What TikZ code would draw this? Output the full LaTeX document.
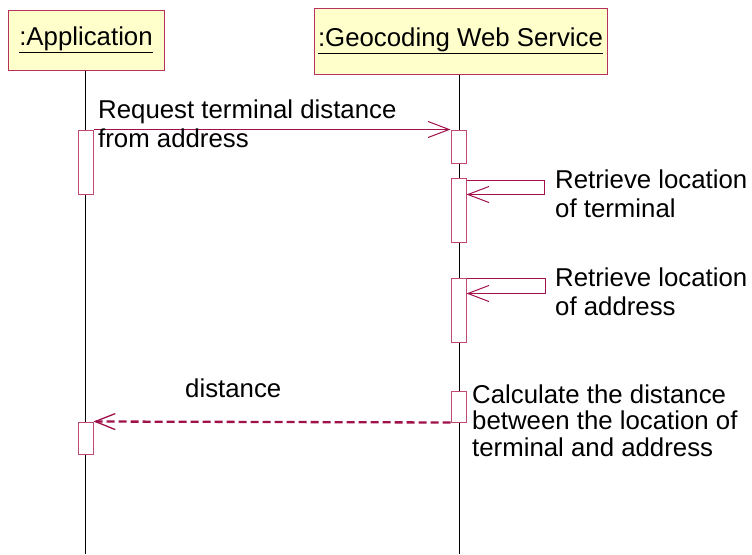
\documentclass[tikz,border=0pt]{standalone}
\usepackage{fontspec}
\setmainfont{Liberation Sans}
\usetikzlibrary{arrows.meta}
\definecolor{umlfill}{HTML}{FFFFCC}
\definecolor{umlborder}{HTML}{B8305E}
\definecolor{actborder}{HTML}{C04A70}
\definecolor{msgcol}{HTML}{A0104A}
\begin{document}
\begin{tikzpicture}[x=1pt,y=-1pt,
  objbox/.style={draw=umlborder, fill=umlfill, line width=1pt, inner sep=0pt,
    font=\fontsize{25.8}{29}\selectfont},
  actbox/.style={draw=actborder, fill=white, line width=1pt, inner sep=0pt,
    minimum width=15pt},
  lifeline/.style={draw=black, line width=1pt},
  msg/.style={draw=msgcol, line width=1pt,
    -{Straight Barb[length=21pt,width=16pt,line width=1pt]}},
  retmsg/.style={draw=msgcol, line width=2.3pt, dash pattern=on 8pt off 4pt,
    -{Straight Barb[length=20pt,width=16pt,line width=1.3pt]}},
  lbl/.style={inner sep=0pt, anchor=base west, align=left,
    font=\fontsize{25.8}{29}\selectfont}
]
\useasboundingbox (0,0) rectangle (752,554);
% objects
\node[objbox, minimum width=156pt, minimum height=60pt] (app) at (86,40) {\underline{:Application}};
\node[objbox, minimum width=293pt, minimum height=66pt] (geo) at (460.5,41) {\underline{:Geocoding Web Service}};
% lifeline ends
\coordinate (append) at (85.5,554);
\coordinate (geoend) at (459,554);
\draw[lifeline] (app.south -| append) -- (append);
\draw[lifeline] (geo.south -| geoend) -- (geoend);
% activations
\node[actbox, minimum height=64pt] (a1) at (85.5,162) {};
\node[actbox, minimum height=33pt] (g1) at (458.5,146.5) {};
\node[actbox, minimum height=64pt] (g2) at (458.5,210) {};
\node[actbox, minimum height=64pt] (g3) at (458.5,310) {};
\node[actbox, minimum height=31pt] (g4) at (458.5,406.5) {};
\node[actbox, minimum height=32pt] (a2) at (85.5,438) {};
% messages
\draw[msg] (a1.north east) -- (g1.north west);
\draw[msg] ([yshift=-3pt]g2.north east) -- ++(78,0) -- ++(0,14) -- ([yshift=-17pt]g2.north east);
\draw[msg] ([yshift=-1pt]g3.north east) -- ++(79,0) -- ++(0,15) -- ([yshift=-16pt]g3.north east);
\draw[retmsg] (g4.south west) -- (a2.north east);
% labels (base = last line)
\node[lbl] (l1) at (98,147) {Request terminal distance\\from address};
\node[lbl] (l2) at (555,217) {Retrieve location\\of terminal};
\node[lbl] (l3) at (555,315) {Retrieve location\\of address};
\node[lbl] (l4) at (185,397) {distance};
\node[lbl, font=\fontsize{25.8}{26.5}\selectfont] (l5) at (472,456) {Calculate the distance\\between the location of\\terminal and address};
\end{tikzpicture}
\end{document}
